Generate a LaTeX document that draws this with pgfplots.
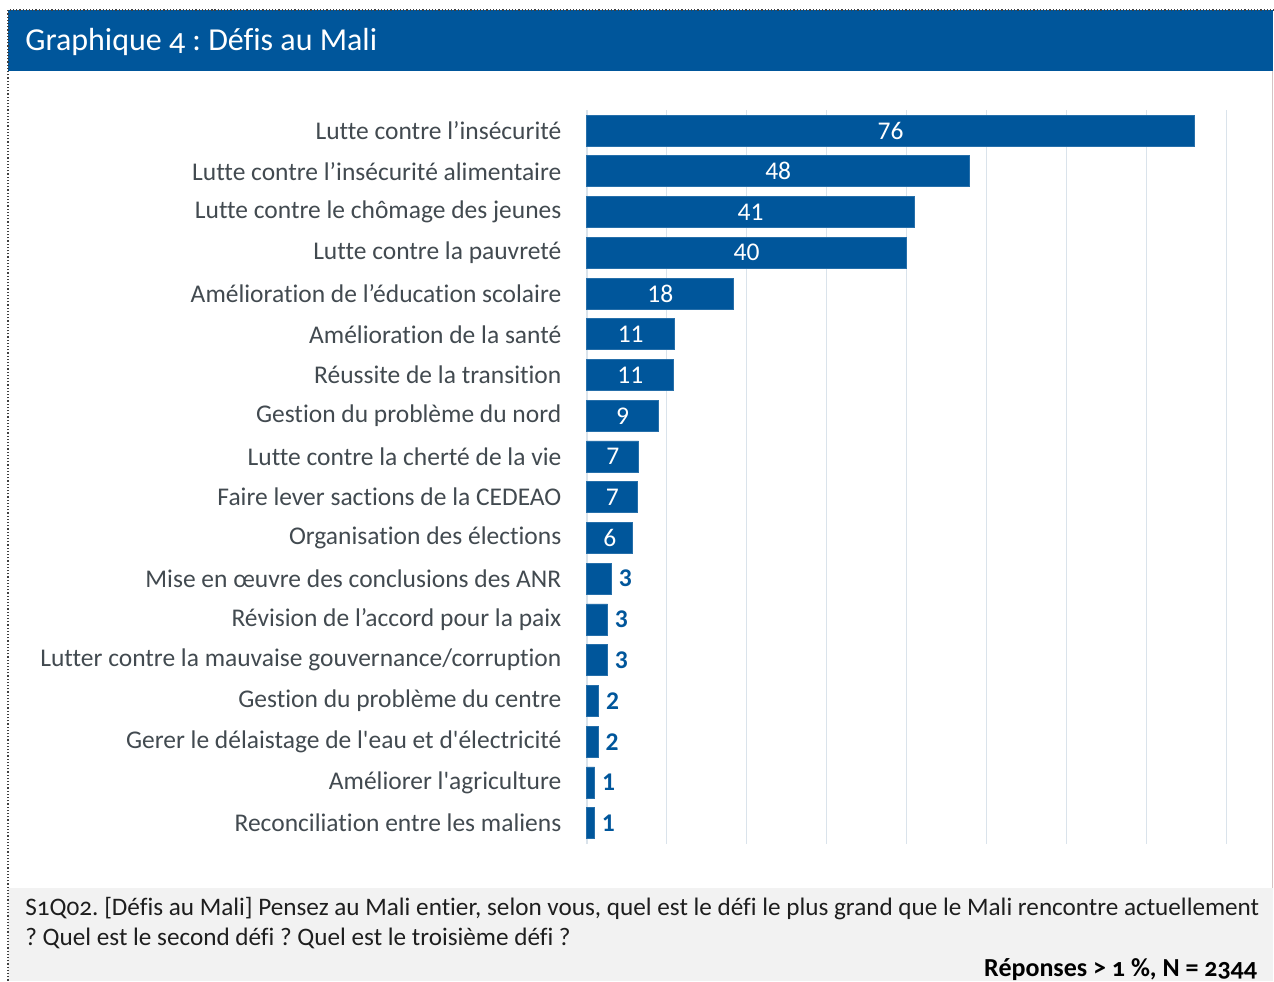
\documentclass[border=0pt]{standalone}
\usepackage{fontspec}
\setmainfont{Carlito}[Ligatures={TeX,NoCommon}]
\newfontfamily\oldfont{Carlito}[Numbers=OldStyle,Ligatures={TeX,NoCommon}]
\usepackage{pgfplots}
\pgfplotsset{compat=1.18}
\usepackage{pgfplotstable}
\frenchspacing
\definecolor{barblue}{RGB}{0,86,155}
\definecolor{gridc}{RGB}{218,227,235}
\definecolor{labc}{RGB}{66,74,80}
\definecolor{greybox}{RGB}{242,242,242}
\definecolor{txtc}{RGB}{30,30,30}

% bar length and printed label
\pgfplotstableread{
i v lab
0 76.0 76
1 47.9 48
2 41.0 41
3 40.0 40
4 18.4 18
5 11.0 11
6 10.9 11
7 9.0 9
8 6.5 7
9 6.4 7
10 5.75 6
}\bigt
\pgfplotstableread{
i v lab
11 3.1 3
12 2.6 3
13 2.6 3
14 1.5 2
15 1.45 2
16 1.0 1
17 0.96 1
}\smallt

\begin{document}
\begin{tikzpicture}
\fill[white] (0,0) rectangle (637pt,-490.5pt);
\fill[greybox] (4pt,-444pt) rectangle (637pt,-490.5pt);
\fill[barblue] (4pt,-5pt) rectangle (637pt,-35.5pt);
\draw[densely dotted, black!75, line width=0.6pt] (4pt,-490.5pt) -- (4pt,-5pt) -- (637pt,-5pt);
\draw[red!15!gray!40, line width=0.4pt] (636.3pt,-35.5pt) -- (636.3pt,-444pt);
\node[anchor=west, white, font=\oldfont\fontsize{16}{19}\selectfont, inner sep=0pt] at (12.5pt,-20.8pt) {Graphique 4 : Défis au Mali};

\begin{axis}[
  at={(293.5pt,-55.1pt)}, anchor=north west,
  scale only axis, width=320pt, height=366.85pt,
  xmin=0, xmax=80, ymin=-0.5, ymax=17.5, y dir=reverse,
  axis line style={draw=none},
  xtick={0,10,...,80}, xticklabels={},
  xmajorgrids, grid style={gridc, line width=0.8pt},
  ytick={0,...,17},
  yticklabels={Lutte contre l’insécurité, Lutte contre l’insécurité alimentaire, Lutte contre le chômage des jeunes, Lutte contre la pauvreté, Amélioration de l’éducation scolaire, Amélioration de la santé, Réussite de la transition, Gestion du problème du nord, Lutte contre la cherté de la vie, Faire lever sactions de la CEDEAO, Organisation des élections, Mise en œuvre des conclusions des ANR, Révision de l’accord pour la paix, Lutter contre la mauvaise gouvernance/corruption, Gestion du problème du centre, Gerer le délaistage de l\textquotesingle eau et d\textquotesingle électricité, Améliorer l\textquotesingle agriculture, Reconciliation entre les maliens},
  major tick length=0pt,
  yticklabel style={font=\fontsize{12.75}{15}\selectfont, text=labc, inner sep=0pt, xshift=-12.5pt},
  clip=false,
]
\addplot[xbar, bar shift=0pt, bar width=15.5pt, fill=barblue, draw=barblue!85!white, line width=0.4pt] table[x=v, y=i] {\bigt};
\addplot[xbar, bar shift=0pt, bar width=15.5pt, fill=barblue, draw=barblue!85!white, line width=0.4pt] table[x=v, y=i] {\smallt};
\addplot[xbar, bar shift=0pt, bar width=0pt, draw=none, fill=none,
  point meta=explicit symbolic, nodes near coords,
  nodes near coords style={white, anchor=center, inner sep=0pt, font=\fontsize{12.75}{15}\selectfont}]
  table[x expr=\thisrow{v}/2, y=i, meta=lab] {\bigt};
\addplot[xbar, bar shift=0pt, bar width=0pt, draw=none, fill=none,
  point meta=explicit symbolic, nodes near coords,
  nodes near coords style={barblue, anchor=west, inner sep=0pt, xshift=3.5pt, font=\bfseries\fontsize{12.75}{15}\selectfont}]
  table[x=v, y=i, meta=lab] {\smallt};
\end{axis}

\node[anchor=west, inner sep=0pt, text=txtc, font=\oldfont\fontsize{12.6}{15}\selectfont] at (12.5pt,-454.3pt) {S1Q02. [Défis au Mali] Pensez au Mali entier, selon vous, quel est le défi le plus grand que le Mali rencontre actuellement};
\node[anchor=west, inner sep=0pt, text=txtc, font=\oldfont\fontsize{12.6}{15}\selectfont] at (12.5pt,-469.3pt) {? Quel est le second défi ? Quel est le troisième défi ?};
\node[anchor=east, inner sep=0pt, text=black, font=\oldfont\bfseries\fontsize{13}{15}\selectfont] at (629pt,-484.8pt) {Réponses > 1 \%, N = 2344};
\end{tikzpicture}
\end{document}
